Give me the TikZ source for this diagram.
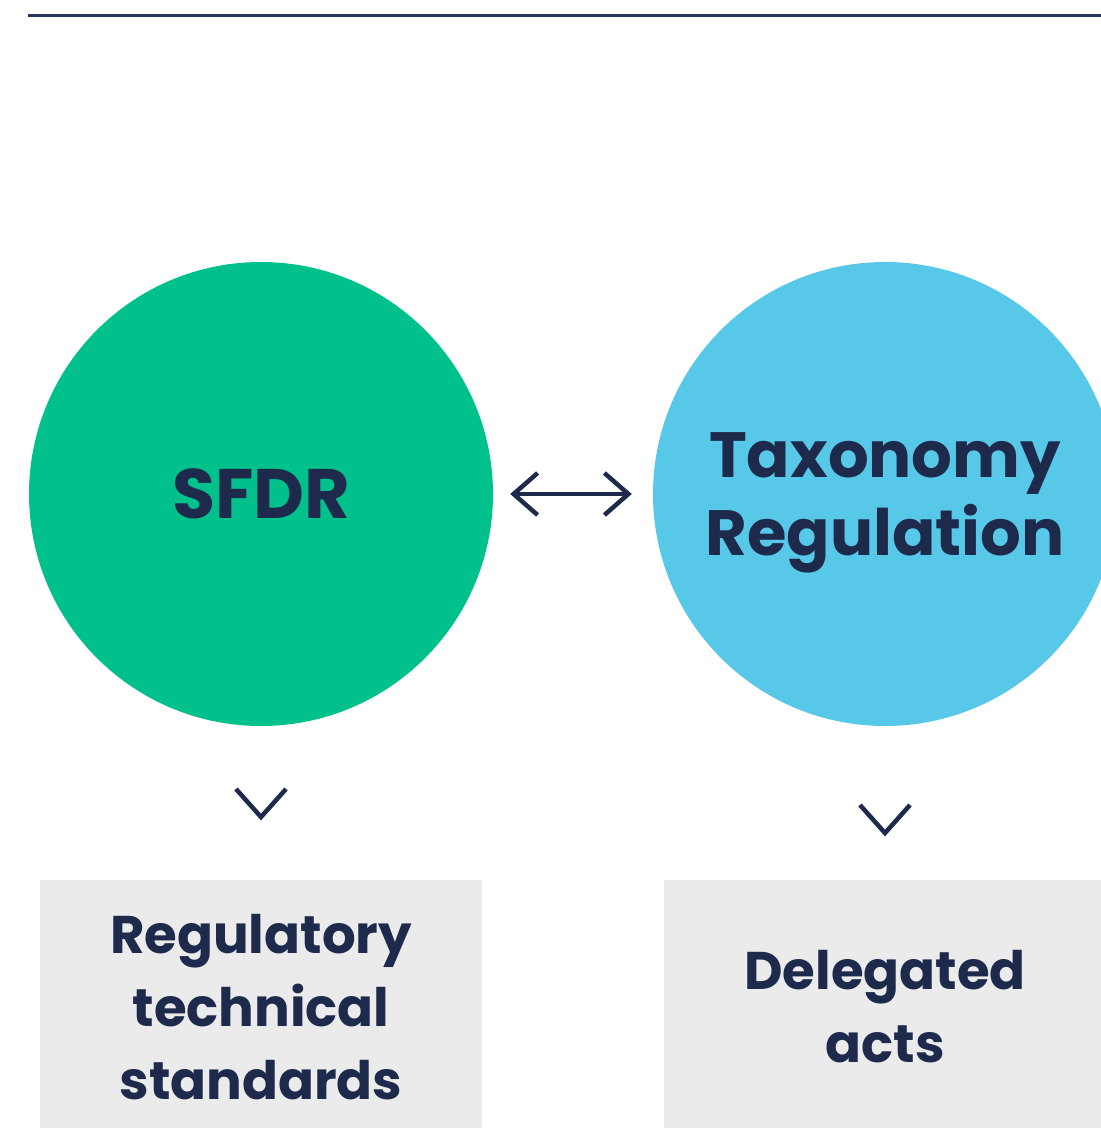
\documentclass[tikz,border=0pt]{standalone}
\usepackage{fontspec}
\setmainfont{Poppins}
\usetikzlibrary{arrows.meta}

\definecolor{navy}{HTML}{1E2A4C}
\definecolor{rulenavy}{HTML}{27365A}
\definecolor{sfdrgreen}{HTML}{00C08B}
\definecolor{taxblue}{HTML}{57C8E8}
\definecolor{boxgrey}{HTML}{EBEBEB}

\tikzset{
  bigcircle/.style={circle, minimum size=464pt, inner sep=0pt},
  circletext/.style={text=navy, align=center, inner sep=0pt,
    font=\fontsize{64}{78}\selectfont\bfseries},
  actbox/.style={rectangle, minimum width=442pt, minimum height=254pt,
    inner sep=0pt, fill=boxgrey, text=navy, align=center,
    font=\fontsize{53}{73}\selectfont\bfseries},
  chevron/.style={draw=navy, line width=4.5pt, miter limit=10},
  barb/.tip={Straight Barb[length=24pt, width=42pt, line width=4.5pt, line join=miter]},
  link/.style={draw=navy, line width=4.5pt, barb-barb}
}

\begin{document}
\begin{tikzpicture}[x=1pt, y=-1pt]
  \useasboundingbox (0,0) rectangle (1101,1128);
  \clip (0,0) rectangle (1101,1128);

  % rule along the top
  \coordinate (ruleL) at (28,15);
  \coordinate (ruleR) at (1101,15);
  \draw[rulenavy, line width=3pt] (ruleL) -- (ruleR);

  % the two regulations
  \node[bigcircle, fill=sfdrgreen] (sfdr) at (261,494) {};
  \node[bigcircle, fill=taxblue] (tax) at (885,494) {};
  \node[circletext, font=\fontsize{70}{78}\selectfont\bfseries] (sfdrtext) at (sfdr.center) {SFDR};
  \node[circletext] (taxtext) at ([yshift=-9pt]tax.center) {Taxonomy\\Regulation};

  % two-way link between them
  \draw[link, shorten <=17pt, shorten >=21pt] (sfdr.east) -- (tax.west);

  % secondary legislation
  \node[actbox] (rts) at (261,1007) {Regulatory\\technical\\standards};
  \node[actbox] (da) at (885,1007) {Delegated\\acts};

  % downward chevrons
  \coordinate (chevL) at (261,817);
  \coordinate (chevR) at (885,833);
  \draw[chevron] (chevL) ++(-25,-28) -- (chevL) -- ++(25,-28);
  \draw[chevron] (chevR) ++(-25,-28) -- (chevR) -- ++(25,-28);
\end{tikzpicture}
\end{document}
